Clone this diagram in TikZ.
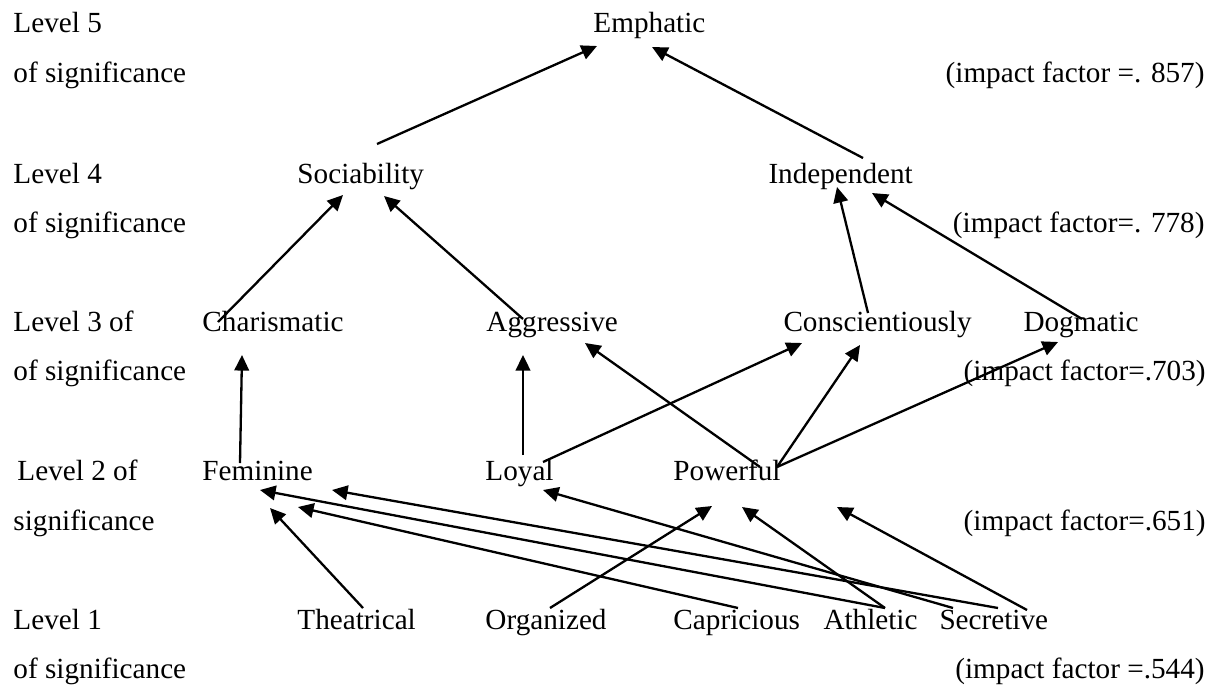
\documentclass[tikz,border=0pt]{standalone}
\usepackage{fontspec}
\setmainfont{Liberation Serif}
\usetikzlibrary{arrows.meta, positioning}
\tikzset{
    word/.style={inner sep=0pt, anchor=base west, font=\fontsize{12}{14}\selectfont},
    fact/.style={inner sep=0pt, anchor=base east, font=\fontsize{12}{14}\selectfont},
    arr/.style={line width=0.95pt, -{Triangle[length=6.4pt,width=6pt]}}
}
\begin{document}
\begin{tikzpicture}[x=0.411pt, y=-0.411pt]
        \useasboundingbox (0,0) rectangle (1215,686);
        % Niveles (izquierda)
        \node[word] (l5a) at (13,33) {Level 5};
        \node[word] (l5b) at (13,82) {of significance};
        \node[word] (l4a) at (13,183) {Level 4};
        \node[word] (l4b) at (13,232) {of significance};
        \node[word] (l3a) at (13,331) {Level 3 of};
        \node[word] (l3b) at (13,380) {of significance};
        \node[word] (l2a) at (17,480) {Level 2 of};
        \node[word] (l2b) at (13,530) {significance};
        \node[word] (l1a) at (13,629) {Level 1};
        \node[word] (l1b) at (13,678) {of significance};
        % Factores (derecha)
        \node[fact] (f5) at (1205,82) {(impact factor =. 857)};
        \node[fact] (f4) at (1205,232) {(impact factor=. 778)};
        \node[fact] (f3) at (1206,380) {(impact factor=.703)};
        \node[fact] (f2) at (1206,530) {(impact factor=.651)};
        \node[fact] (f1) at (1205,678) {(impact factor =.544)};
        % Rasgos
        \node[word] (emph) at (593,33) {Emphatic};
        \node[word] (soc) at (297,183) {Sociability};
        \node[word] (ind) at (768,183) {Independent};
        \node[word] (char) at (202,331) {Charismatic};
        \node[word] (aggr) at (486,331) {Aggressive};
        \node[word] (consc) at (783,331) {Conscientiously};
        \node[word] (dogm) at (1023,331) {Dogmatic};
        \node[word] (fem) at (202,480) {Feminine};
        \node[word] (loyal) at (485,480) {Loyal};
        \node[word] (pow) at (673,480) {Powerful};
        \node[word] (theat) at (297,629) {Theatrical};
        \node[word] (org) at (485,629) {Organized};
        \node[word] (capr) at (673,629) {Capricious};
        \node[word] (athl) at (823,629) {Athletic};
        \node[word] (secr) at (939,629) {Secretive};
        % Puntos de las flechas
        \coordinate (emph-l) at (597,46);
        \coordinate (emph-r) at (652,47);
        \coordinate (soc-up) at (377,144);
        \coordinate (soc-l) at (343,195);
        \coordinate (soc-r) at (384,196);
        \coordinate (ind-up) at (863,158);
        \coordinate (ind-l) at (837,187);
        \coordinate (ind-r) at (872,193);
        \coordinate (char-up) at (218,322);
        \coordinate (char-in) at (242,355);
        \coordinate (aggr-up) at (523,319);
        \coordinate (aggr-l) at (523,355);
        \coordinate (aggr-r) at (585,343);
        \coordinate (consc-up) at (868,313);
        \coordinate (consc-l) at (802,343);
        \coordinate (consc-r) at (860,345);
        \coordinate (dogm-up) at (1082,319);
        \coordinate (dogm-in) at (1058,342);
        \coordinate (fem-up) at (240,463);
        \coordinate (fem-a) at (260,490);
        \coordinate (fem-b) at (270,508);
        \coordinate (fem-c) at (298,507);
        \coordinate (fem-d) at (332,490);
        \coordinate (loyal-up) at (523,455);
        \coordinate (loyal-r) at (543,462);
        \coordinate (loyal-in) at (543,490);
        \coordinate (pow-l) at (760,467);
        \coordinate (pow-r) at (777,467);
        \coordinate (pow-a) at (712,506);
        \coordinate (pow-b) at (742,507);
        \coordinate (pow-c) at (837,507);
        \coordinate (theat-up) at (363,608);
        \coordinate (org-up) at (550,608);
        \coordinate (capr-up) at (738,608);
        \coordinate (athl-up) at (885,608);
        \coordinate (secr-a) at (953,608);
        \coordinate (secr-b) at (998,608);
        \coordinate (secr-c) at (1027,610);
        % Nivel 4 -> 5
        \draw[arr] (soc-up) -- (emph-l);
        \draw[arr] (ind-up) -- (emph-r);
        % Nivel 3 -> 4
        \draw[arr] (char-up) -- (soc-l);
        \draw[arr] (aggr-up) -- (soc-r);
        \draw[arr] (consc-up) -- (ind-l);
        \draw[arr] (dogm-up) -- (ind-r);
        % Nivel 2 -> 3
        \draw[arr] (fem-up) -- (char-in);
        \draw[arr] (loyal-up) -- (aggr-l);
        \draw[arr] (pow-l) -- (aggr-r);
        \draw[arr] (loyal-r) -- (consc-l);
        \draw[arr] (pow-r) -- (consc-r);
        \draw[arr] (pow-r) -- (dogm-in);
        % Nivel 1 -> 2
        \draw[arr] (theat-up) -- (fem-b);
        \draw[arr] (org-up) -- (pow-a);
        \draw[arr] (capr-up) -- (fem-c);
        \draw[arr] (athl-up) -- (fem-a);
        \draw[arr] (athl-up) -- (pow-b);
        \draw[arr] (secr-b) -- (fem-d);
        \draw[arr] (secr-a) -- (loyal-in);
        \draw[arr] (secr-c) -- (pow-c);
    \end{tikzpicture}
\end{document}
